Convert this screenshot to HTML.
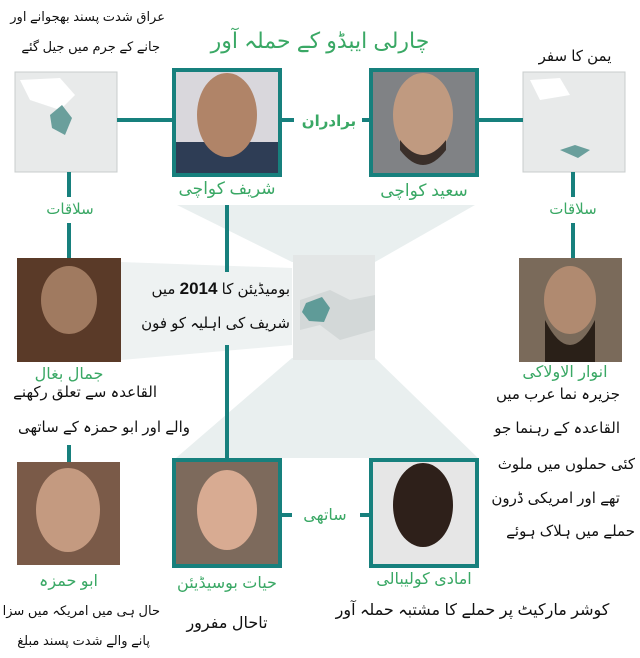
<!DOCTYPE html>
<html><head><meta charset="utf-8"><style>
body{margin:0;width:640px;height:658px;background:#fff;position:relative;overflow:hidden;font-family:"Liberation Sans","Noto Sans CJK SC","DejaVu Sans",sans-serif;}
.t{position:absolute;white-space:nowrap;direction:rtl;line-height:1;}
.g{color:#3aa865;}
.k{color:#111;}
</style></head><body>
<svg width="640" height="658" style="position:absolute;left:0;top:0">
<polygon points="177,205 475,205 375,262 292,262" fill="#e9efef"/>
<polygon points="121,262 292,268 292,345 121,360" fill="#eef2f2"/>
<polygon points="292,358 375,358 478,458 176,458" fill="#e9efef"/>
<rect x="293" y="255" width="82" height="105" fill="#e3e6e6"/>
<path d="M300,300 L330,290 L350,300 L375,295 L375,330 L340,340 L320,325 L300,330 Z" fill="#d3d8d8"/>
<polygon points="306,303 322,297 330,308 324,322 309,321 302,312" fill="#5f9b98"/>
<rect x="15" y="72" width="102" height="100" fill="#e8eaea" stroke="#c8cccc"/>
<path d="M20,80 L60,78 L75,95 L60,110 L30,100 Z" fill="#fff"/>
<path d="M50,115 L62,105 L72,118 L65,135 L52,128 Z" fill="#6a9f9c"/>
<rect x="523" y="72" width="102" height="100" fill="#e8eaea" stroke="#c8cccc"/>
<path d="M530,80 L560,78 L570,95 L540,100 Z" fill="#fff"/>
<path d="M560,150 L575,145 L590,150 L578,158 Z" fill="#6a9f9c"/>
<g stroke="#17807d" stroke-width="4" fill="none">
<line x1="117" y1="120" x2="172" y2="120"/>
<line x1="282" y1="120" x2="294" y2="120"/>
<line x1="362" y1="120" x2="369" y2="120"/>
<line x1="479" y1="120" x2="523" y2="120"/>
<line x1="69" y1="172" x2="69" y2="197"/>
<line x1="69" y1="223" x2="69" y2="258"/>
<line x1="573" y1="172" x2="573" y2="197"/>
<line x1="573" y1="223" x2="573" y2="258"/>
<line x1="227" y1="205" x2="227" y2="272"/>
<line x1="227" y1="345" x2="227" y2="458"/>
<line x1="69" y1="445" x2="69" y2="462"/>
<line x1="282" y1="515" x2="292" y2="515"/>
<line x1="360" y1="515" x2="369" y2="515"/>
</g>
<rect x="174" y="70" width="106" height="105" fill="#2e3d55" stroke="#17807d" stroke-width="4"/>
<rect x="176" y="72" width="102" height="70" fill="#d9d7dc"/>
<ellipse cx="227" cy="115" rx="30" ry="42" fill="#b08468"/>
<rect x="371" y="70" width="106" height="105" fill="#808285" stroke="#17807d" stroke-width="4"/>
<ellipse cx="423" cy="115" rx="30" ry="42" fill="#c09a80"/>
<path d="M400,140 Q423,170 446,140 L446,150 Q423,180 400,150Z" fill="#3a2f2a"/>
<rect x="174" y="460" width="106" height="106" fill="#7d6a5c" stroke="#17807d" stroke-width="4"/>
<ellipse cx="227" cy="510" rx="30" ry="40" fill="#d8ab92"/>
<rect x="371" y="460" width="106" height="106" fill="#e6e6e6" stroke="#17807d" stroke-width="4"/>
<ellipse cx="423" cy="505" rx="30" ry="42" fill="#2e201a"/>
<rect x="17" y="258" width="104" height="104" fill="#5a3a28"/>
<ellipse cx="69" cy="300" rx="28" ry="34" fill="#a07a60"/>
<rect x="519" y="258" width="103" height="104" fill="#7a6a5a"/>
<ellipse cx="570" cy="300" rx="26" ry="34" fill="#b08a70"/>
<path d="M545,320 Q570,370 595,320 L595,362 L545,362Z" fill="#2a2018"/>
<rect x="17" y="462" width="103" height="103" fill="#7a5a48"/>
<ellipse cx="68" cy="510" rx="32" ry="42" fill="#c49a80"/>
</svg>

<div class="t g" style="left:200px;top:30px;width:240px;text-align:center;font-size:22px">چارلی ایبڈو کے حملہ آور</div>
<div class="t k" style="left:0px;top:10px;width:165px;text-align:right;font-size:13px">عراق شدت پسند بھجوانے اور</div>
<div class="t k" style="left:0px;top:40px;width:160px;text-align:right;font-size:13px">جانے کے جرم میں جیل گئے</div>
<div class="t k" style="left:520px;top:49px;width:110px;text-align:center;font-size:15px">یمن کا سفر</div>
<div class="t g" style="left:295px;top:114px;width:68px;text-align:center;font-size:15px;font-weight:bold">برادران</div>
<div class="t g" style="left:172px;top:180px;width:110px;text-align:center;font-size:17px">شریف کواچی</div>
<div class="t g" style="left:369px;top:182px;width:110px;text-align:center;font-size:17px">سعید کواچی</div>
<div class="t g" style="left:30px;top:202px;width:80px;text-align:center;font-size:15px">سلاقات</div>
<div class="t g" style="left:533px;top:202px;width:80px;text-align:center;font-size:15px">سلاقات</div>
<div class="t k" style="left:130px;top:280px;width:160px;text-align:right;font-size:15px">بومیڈیئن کا <b style="font-size:17px">2014</b> میں</div>
<div class="t k" style="left:125px;top:316px;width:165px;text-align:right;font-size:15px">شریف کی اہلیہ کو فون</div>
<div class="t g" style="left:17px;top:367px;width:104px;text-align:center;font-size:16px">جمال بغال</div>
<div class="t k" style="left:0px;top:385px;width:157px;text-align:right;font-size:15px">القاعدہ سے تعلق رکھنے</div>
<div class="t k" style="left:0px;top:420px;width:190px;text-align:right;font-size:15px">والے اور ابو حمزہ کے ساتھی</div>
<div class="t g" style="left:500px;top:365px;width:130px;text-align:center;font-size:16px">انوار الاولاکی</div>
<div class="t k" style="left:480px;top:387px;width:140px;text-align:right;font-size:15px">جزیرہ نما عرب میں</div>
<div class="t k" style="left:480px;top:421px;width:140px;text-align:right;font-size:15px">القاعدہ کے رہنما جو</div>
<div class="t k" style="left:480px;top:457px;width:155px;text-align:right;font-size:15px">کئی حملوں میں ملوث</div>
<div class="t k" style="left:480px;top:491px;width:140px;text-align:right;font-size:15px">تھے اور امریکی ڈرون</div>
<div class="t k" style="left:480px;top:524px;width:155px;text-align:right;font-size:15px">حملے میں ہلاک ہوئے</div>
<div class="t g" style="left:295px;top:508px;width:60px;text-align:center;font-size:16px">ساتھی</div>
<div class="t g" style="left:17px;top:574px;width:103px;text-align:center;font-size:16px">ابو حمزہ</div>
<div class="t k" style="left:0px;top:604px;width:160px;text-align:right;font-size:13px">حال ہی میں امریکہ میں سزا</div>
<div class="t k" style="left:0px;top:634px;width:150px;text-align:right;font-size:13px">پانے والے شدت پسند مبلغ</div>
<div class="t g" style="left:165px;top:576px;width:124px;text-align:center;font-size:16px">حیات بوسیڈیئن</div>
<div class="t k" style="left:172px;top:616px;width:110px;text-align:center;font-size:16px">تاحال مفرور</div>
<div class="t g" style="left:362px;top:572px;width:124px;text-align:center;font-size:16px">امادی کولیبالی</div>
<div class="t k" style="left:325px;top:603px;width:295px;text-align:center;font-size:16px">کوشر مارکیٹ پر حملے کا مشتبہ حملہ آور</div>
</body></html>
